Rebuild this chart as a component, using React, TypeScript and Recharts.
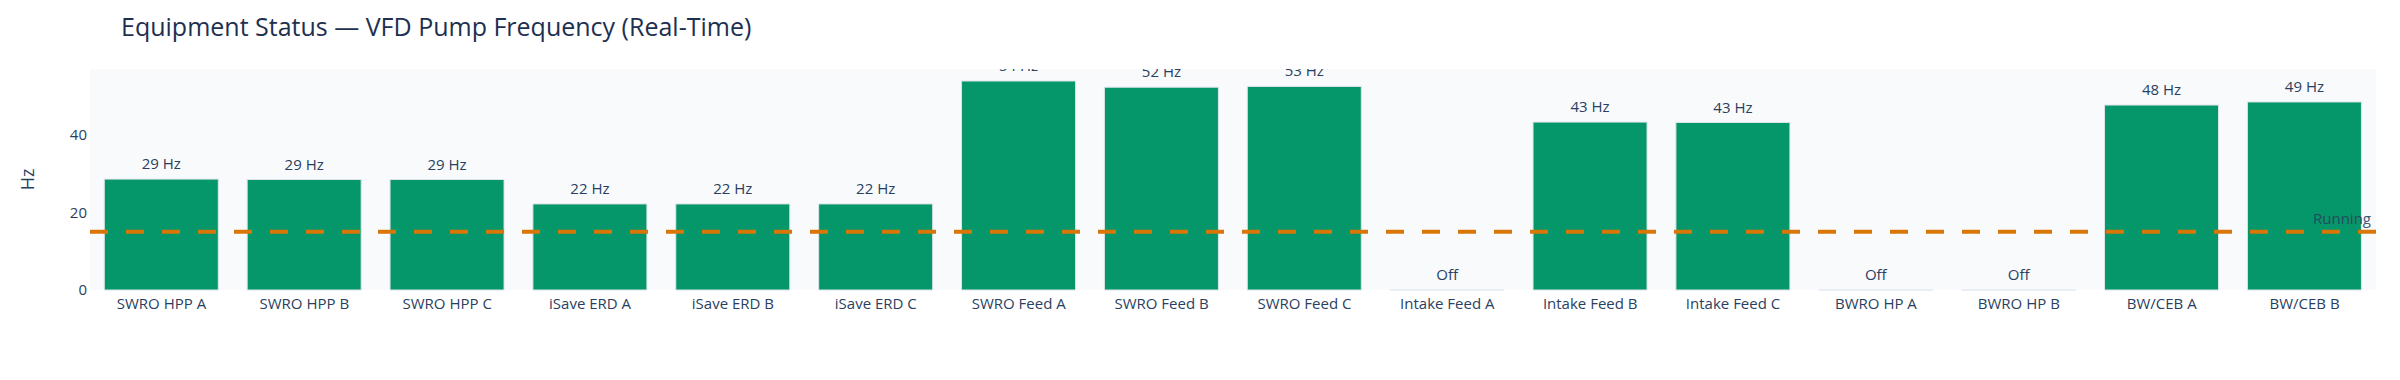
import { Bar, BarChart, CartesianGrid, LabelList, Rectangle, ReferenceLine, XAxis, YAxis } from 'recharts';

const pumps = [
  'SWRO HPP A',
  'SWRO HPP B',
  'SWRO HPP C',
  'iSave ERD A',
  'iSave ERD B',
  'iSave ERD C',
  'SWRO Feed A',
  'SWRO Feed B',
  'SWRO Feed C',
  'Intake Feed A',
  'Intake Feed B',
  'Intake Feed C',
  'BWRO HP A',
  'BWRO HP B',
  'BW/CEB A',
  'BW/CEB B',
];
const frequencyHz = [28.6, 28.5, 28.5, 22.2, 22.2, 22.2, 53.9, 52.3, 52.5, 0, 43.3, 43.2, 0, 0, 47.7, 48.5];
const yTicks = [0, 20, 40];
const runningThreshold = 15;

const data = pumps.map((name, i) => ({ name, hz: frequencyHz[i] }));

const W = 2400;
const H = 380;
const Y_W = 90;
const X_H = 90;
const MARGIN = { top: 69, right: 24, bottom: 0, left: 0 } as const;
const PLOT = {
  x: MARGIN.left + Y_W,
  y: MARGIN.top,
  width: W - MARGIN.left - MARGIN.right - Y_W,
  height: H - MARGIN.top - X_H,
};

const FONT = '"Open Sans", "Noto Sans", sans-serif';
const TEXT = '#2a3f5f';
const GREEN = '#059669';
const ORANGE = '#d97706';

/** Bars at 0 Hz ("Off") only show a thin base line. */
function PumpBar(props: any) {
  const { x, y, width, height } = props;
  if (!height) {
    return <line x1={x} x2={x + width} y1={y} y2={y} stroke="#e2e8f0" strokeWidth={1.5} />;
  }
  return <Rectangle {...props} fill={GREEN} stroke="#dbe4ea" strokeWidth={1} />;
}

// value text above each bar, clipped to the plot area like the original
function ValueLabel(props: any) {
  const { x, y, width, value } = props;
  const text = value ? `${Math.round(value)} Hz` : 'Off';
  return (
    <text
      x={x + width / 2}
      y={y - 10}
      textAnchor="middle"
      fontSize={15}
      fontFamily={FONT}
      fill={TEXT}
      clipPath="url(#plot-clip)"
    >
      {text}
    </text>
  );
}

function HzTitle(props: any) {
  const { viewBox } = props;
  const cx = viewBox.x + 27;
  const cy = viewBox.y + viewBox.height / 2;
  return (
    <text
      x={cx}
      y={cy}
      transform={`rotate(-90 ${cx} ${cy})`}
      textAnchor="middle"
      dominantBaseline="central"
      fontSize={18}
      fontFamily={FONT}
      fill={TEXT}
    >
      Hz
    </text>
  );
}

function RunningLabel(props: any) {
  const { viewBox } = props;
  return (
    <text
      x={viewBox.x + viewBox.width - 5}
      y={viewBox.y - 8}
      textAnchor="end"
      fontSize={15}
      fontFamily={FONT}
      fill={TEXT}
      fillOpacity={0.9}
    >
      Running
    </text>
  );
}

export default function App() {
  return (
    <div style={{ position: 'absolute', left: 0, top: 0, width: W, height: H, background: '#fff' }}>
      <div
        style={{
          position: 'absolute',
          left: 121,
          top: 14,
          fontFamily: FONT,
          fontSize: 25,
          lineHeight: '25px',
          color: '#1e3050',
          whiteSpace: 'nowrap',
        }}
      >
        Equipment Status — VFD Pump Frequency (Real-Time)
      </div>
      <BarChart width={W} height={H} data={data} margin={MARGIN} barCategoryGap="10%">
        <defs>
          <clipPath id="plot-clip">
            <rect x={PLOT.x} y={PLOT.y} width={PLOT.width} height={PLOT.height} />
          </clipPath>
        </defs>
        <rect x={PLOT.x} y={PLOT.y} width={PLOT.width} height={PLOT.height} fill="#f8fafc" />
        <CartesianGrid stroke="#ffffff" strokeWidth={2} vertical={false} />
        <XAxis
          dataKey="name"
          interval={0}
          height={X_H}
          tickLine={false}
          axisLine={false}
          tick={{ fontSize: 15, fontFamily: FONT, fill: TEXT }}
        />
        <YAxis
          width={Y_W}
          domain={[0, 57]}
          ticks={yTicks}
          tickLine={false}
          axisLine={false}
          tickSize={0}
          tickMargin={3}
          tick={{ fontSize: 15, fontFamily: FONT, fill: TEXT }}
          label={<HzTitle />}
        />
        <Bar dataKey="hz" shape={<PumpBar />} isAnimationActive={false}>
          <LabelList dataKey="hz" content={<ValueLabel />} />
        </Bar>
        <ReferenceLine
          y={runningThreshold}
          stroke={ORANGE}
          strokeWidth={4}
          strokeDasharray="18 18"
          label={<RunningLabel />}
        />
      </BarChart>
    </div>
  );
}
